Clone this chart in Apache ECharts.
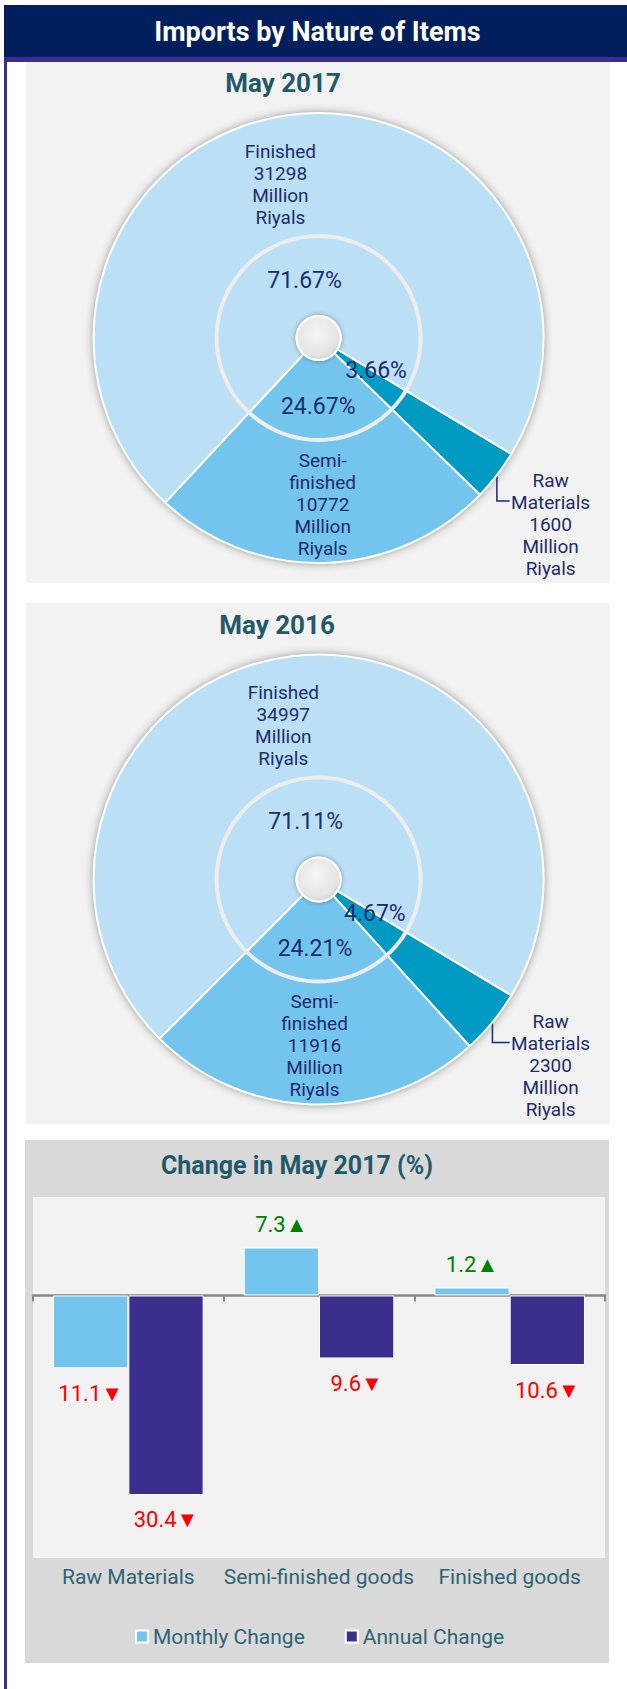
<!DOCTYPE html>
<html><head><meta charset="utf-8">
<script src="https://cdn.jsdelivr.net/npm/echarts@6/dist/echarts.min.js"></script>
<style>
html,body{margin:0;padding:0;background:#fff;}
body{width:627px;height:1689px;position:relative;overflow:hidden;font-family:Roboto,sans-serif;}
.blk{position:absolute;}
</style></head><body>
<div class="blk" style="left:4px;top:5px;width:3px;height:1684px;background:#3a2d91"></div>
<div class="blk" style="left:4px;top:5px;width:623px;height:52px;background:#001f5c;"></div>
<div class="blk" style="left:4px;top:57px;width:623px;height:5px;background:#3a2d91"></div>
<div class="blk" style="left:6px;top:5px;width:623px;height:52px;color:#fff;font:bold 27px Roboto,sans-serif;text-align:center;line-height:54px;">Imports by Nature of Items</div>
<div class="blk" style="left:26px;top:62px;width:584px;height:521px;background:#f2f2f2"></div>
<div class="blk" style="left:26px;top:603px;width:584px;height:521px;background:#f2f2f2"></div>
<div class="blk" style="left:25px;top:1140px;width:584px;height:523px;background:#d9d9d9"></div>
<div id="chart" class="blk" style="left:0;top:0;width:627px;height:1689px"></div>
<script>
// ---- data ----
const pieNames = ['Raw\nMaterials', 'Semi-\nfinished', 'Finished'];
const values2017 = [1600, 10772, 31298];
const values2016 = [2300, 11916, 34997];
const pieTitles = ['May 2017', 'May 2016'];
const barCategories = ['Raw Materials', 'Semi-finished goods', 'Finished goods'];
const seriesNames = ['Monthly Change', 'Annual Change'];
const monthlyChange = [-11.1, 7.3, 1.2];
const annualChange = [-30.4, -9.6, -10.6];

// ---- styles ----
const pieColors = ['#009ac2', '#74c5ee', '#bbdff5'];
const navy = '#1e2b6e';
const teal = '#215968';
const FONT = 'Roboto, sans-serif';
const innerNudge = [[6, -7], [-2, 4], [-5, 7]];
const outerNudge = [[0, 0], [0, 0], [-15, 11]];

function pieSeries(values, cx, cy) {
  const c = [cx, cy];
  const total = values.reduce((a, b) => a + b, 0);
  const mk = (labelPos) => values.map((v, i) => {
    const d = { name: pieNames[i], value: v, itemStyle: { color: pieColors[i] } };
    if (labelPos && i === 0) {
      d.label = { position: 'outside' };
      d.labelLine = { show: true, length: 10, length2: 10, lineStyle: { color: navy, width: 1.5 } };
    }
    return d;
  });
  return [
    { type: 'pie', center: c, radius: [0, 225], silent: true, animation: false, z: 1,
      label: { show: false }, labelLine: { show: false },
      data: [{ value: 1, itemStyle: { color: '#bbdff5', shadowBlur: 10, shadowColor: 'rgba(0,0,0,0.45)' } }] },
    { type: 'pie', center: c, radius: [102, 225], startAngle: 329, clockwise: true, silent: true, animation: false, z: 2,
      avoidLabelOverlap: false,
      itemStyle: { borderColor: '#ffffff', borderWidth: 2 },
      label: { show: true, position: 'inside', color: navy, fontSize: 19, lineHeight: 22, fontFamily: FONT, align: 'center',
        formatter: p => p.name + '\n' + p.value + '\nMillion\nRiyals' },
      labelLine: { show: false },
      labelLayout: function (p) {
        if (p.dataIndex !== 0) return { dx: outerNudge[p.dataIndex][0], dy: outerNudge[p.dataIndex][1] };
        const s = p.labelLinePoints && p.labelLinePoints[0];
        const r = { x: cx + 232, y: cy + 186, align: 'center', verticalAlign: 'middle' };
        if (s) r.labelLinePoints = [s, [s[0], cy + 163], [cx + 191, cy + 163]];
        return r;
      },
      data: mk(true) },
    { type: 'pie', center: c, radius: [22, 102], startAngle: 329, clockwise: true, silent: true, animation: false, z: 3,
      itemStyle: { borderColor: '#ffffff', borderWidth: 2 },
      label: { show: true, position: 'inside', color: navy, fontSize: 23, fontFamily: FONT,
        formatter: p => (p.value / total * 100).toFixed(2) + '%' },
      labelLine: { show: false },
      labelLayout: p => ({ dx: innerNudge[p.dataIndex][0], dy: innerNudge[p.dataIndex][1] }),
      data: mk(false) },
    { type: 'pie', center: c, radius: [100, 104], silent: true, animation: false, z: 4,
      label: { show: false }, labelLine: { show: false },
      data: [{ value: 1, itemStyle: { color: '#ededed' } }] },
    { type: 'pie', center: c, radius: [0, 22], silent: true, animation: false, z: 5,
      label: { show: false }, labelLine: { show: false },
      data: [{ value: 1, itemStyle: {
        color: { type: 'radial', x: 0.45, y: 0.4, r: 0.7, colorStops: [{ offset: 0, color: '#f6f6f6' }, { offset: 0.7, color: '#e4e4e4' }, { offset: 1, color: '#c4c4c4' }] },
        borderColor: '#ffffff', borderWidth: 2, shadowBlur: 5, shadowColor: 'rgba(0,0,0,0.35)' } }] }
  ];
}

const barLabel = {
  show: true, fontFamily: FONT,
  formatter: p => p.value < 0 ? '{dn|' + Math.abs(p.value).toFixed(1) + '▼}' : '{up|' + p.value.toFixed(1) + '▲}',
  rich: { dn: { color: '#ff0000', fontSize: 22, fontFamily: FONT }, up: { color: '#008000', fontSize: 22, fontFamily: FONT } }
};
const barData = arr => arr.map(v => ({ value: v, label: { position: v < 0 ? 'bottom' : 'top', distance: v < 0 ? 14 : 12 } }));

const option = {
  animation: false,
  textStyle: { fontFamily: FONT },
  title: [
    { text: pieTitles[0], left: 278, top: 65, textAlign: 'center', textStyle: { fontSize: 26, fontWeight: 'bold', color: teal, fontFamily: FONT } },
    { text: pieTitles[1], left: 272, top: 607, textAlign: 'center', textStyle: { fontSize: 26, fontWeight: 'bold', color: teal, fontFamily: FONT } },
    { text: 'Change in May 2017 (%)', left: 292, top: 1148, textAlign: 'center', textStyle: { fontSize: 25, fontWeight: 'bold', color: teal, fontFamily: FONT } }
  ],
  grid: { left: 33, top: 1197, width: 572, height: 361, show: true, backgroundColor: '#f2f2f2', borderWidth: 0 },
  xAxis: [
    { type: 'category', data: barCategories, axisLine: { onZero: true, lineStyle: { color: '#888888', width: 2.5 } },
      axisTick: { show: true, length: 6, lineStyle: { color: '#888888', width: 2 } }, axisLabel: { show: false } },
    { type: 'category', data: barCategories, position: 'bottom', axisLine: { show: false, onZero: false }, axisTick: { show: false },
      axisLabel: { interval: 0, color: '#2e6474', fontSize: 21, margin: 8, fontFamily: FONT } }
  ],
  yAxis: { type: 'value', min: -40, max: 15, interval: 5, show: false },
  legend: { data: seriesNames, left: 130, top: 1621, icon: 'rect', itemWidth: 12, itemHeight: 12, itemGap: 40,
    textStyle: { color: '#2e6474', fontSize: 21, fontFamily: FONT } },
  series: [
    ...pieSeries(values2017, 318.6, 338),
    ...pieSeries(values2016, 318.6, 879.5),
    { name: seriesNames[0], type: 'bar', xAxisIndex: 0, data: barData(monthlyChange), barGap: '0%', barCategoryGap: '21%',
      itemStyle: { color: '#74c5ee', borderColor: '#ffffff', borderWidth: 1 }, label: barLabel },
    { name: seriesNames[1], type: 'bar', xAxisIndex: 0, data: barData(annualChange), barGap: '0%', barCategoryGap: '21%',
      itemStyle: { color: '#3b2f8e', borderColor: '#ffffff', borderWidth: 1 }, label: barLabel }
  ]
};
const chart = echarts.init(document.getElementById('chart'), null, { renderer: 'svg' });
chart.setOption(option);
</script>
</body></html>
